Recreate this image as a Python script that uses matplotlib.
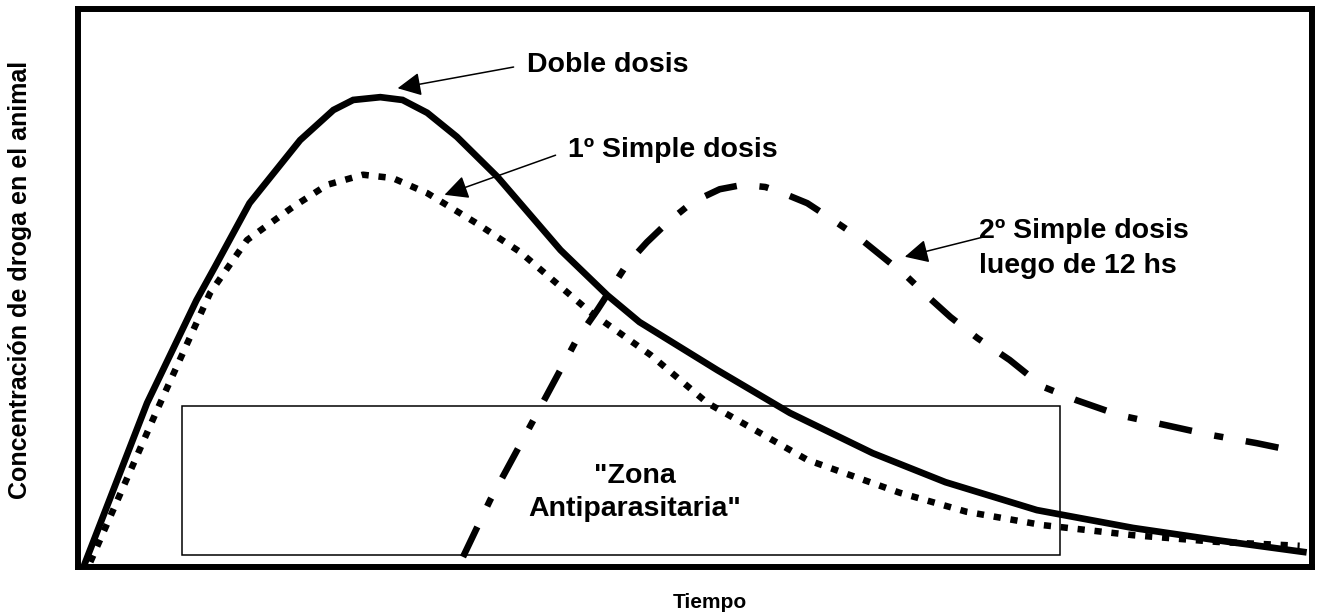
import matplotlib
matplotlib.use("Agg")
import matplotlib.pyplot as plt
from matplotlib.patches import Rectangle

plt.rcParams['font.family'] = ['Liberation Sans', 'DejaVu Sans']
plt.rcParams['font.weight'] = 'bold'

# tiempo (unidades arbitrarias) y concentracion (unidades arbitrarias)
doble_t = [0.6, 5.6, 9.6, 11.1, 13.9, 18.0, 20.7, 22.3, 24.5, 26.3, 28.3, 30.7,
           34.0, 39.1, 42.9, 45.5, 51.8, 57.7, 64.4, 70.3, 77.7, 85.5, 92.3, 99.3]
doble_c = [0.9, 29.4, 47.8, 53.8, 65.2, 76.5, 81.9, 83.7, 84.2, 83.7, 81.4, 77.1,
           69.9, 56.8, 48.7, 43.9, 35.3, 27.6, 20.4, 15.2, 10.2, 7.0, 4.8, 2.7]

simple1_t = [1.0, 6.4, 10.7, 13.7, 17.4, 20.2, 23.1, 25.5, 28.3, 32.3, 35.8,
             41.5, 46.4, 51.0, 59.1, 66.6, 72.0, 78.2, 85.5, 92.3, 99.0]
simple1_c = [0.9, 28.1, 49.1, 58.6, 64.5, 68.5, 70.3, 69.7, 67.0, 61.6, 56.5,
             45.7, 38.0, 29.4, 19.2, 13.3, 9.9, 7.5, 5.7, 4.5, 3.8]

simple2_t = [31.2, 33.4, 36.9, 40.4, 42.1, 44.5, 46.1, 47.8, 49.8, 52.0, 53.9,
             55.7, 56.9, 59.1, 61.3, 63.3, 65.2, 67.2, 68.9, 70.7, 72.9, 75.5,
             78.2, 80.9, 84.4, 88.2, 91.7, 95.5, 99.0]
simple2_c = [1.8, 12.0, 26.3, 40.7, 46.1, 54.3, 58.2, 61.8, 65.4, 67.7, 68.5,
             68.1, 67.2, 65.2, 62.0, 59.0, 55.6, 52.0, 48.4, 44.8, 41.0, 37.1,
             32.3, 29.9, 27.2, 25.4, 23.7, 22.2, 20.6]

# zona antiparasitaria: t inicio, t fin, c min, c max
zona_t = [8.4, 79.6]
zona_c = [2.15, 28.85]

fig = plt.figure(figsize=(13.21, 6.15), dpi=100)
ax = fig.add_axes([78/1321, 1-567/615, (1312-78)/1321, (567-9)/615])
ax.set_xlim(0, 100)
ax.set_ylim(0, 100)
ax.set_xticks([])
ax.set_yticks([])
for s in ax.spines.values():
    s.set_linewidth(4.3)

ax.plot(doble_t, doble_c, color='black', lw=4.8, solid_joinstyle='miter')
ax.plot(simple1_t, simple1_c, color='black', lw=4.7, linestyle=(0, (1.1, 1.5)))
ax.plot(simple2_t, simple2_c, color='black', lw=4.7,
        linestyle=(0, (5.1, 3.5, 1.4, 3.5)))

ax.add_patch(Rectangle((zona_t[0], zona_c[0]), zona_t[1]-zona_t[0],
                       zona_c[1]-zona_c[0], fill=False, lw=1.1, ec='black'))

fs = 20.5
arrow = dict(arrowstyle='-|>,head_length=0.4,head_width=0.2', color='black',
             lw=1.1, mutation_scale=36, shrinkA=0, shrinkB=0)
ax.annotate('', xy=(25.9, 85.8), xytext=(35.3, 89.6), arrowprops=arrow)
ax.annotate('', xy=(29.7, 66.7), xytext=(38.7, 73.8), arrowprops=arrow)
ax.annotate('', xy=(67.0, 55.6), xytext=(73.3, 59.1), arrowprops=arrow)

ax.text(36.4, 88.7, 'Doble dosis', fontsize=fs, va='baseline', ha='left')
ax.text(39.7, 73.5, '1º Simple dosis', fontsize=fs, va='baseline', ha='left')
ax.text(73.0, 59.0, '2º Simple dosis', fontsize=fs, va='baseline', ha='left')
ax.text(73.0, 52.7, 'luego de 12 hs', fontsize=fs, va='baseline', ha='left')
ax.text(45.1, 15.1, '"Zona', fontsize=fs, va='baseline', ha='center')
ax.text(45.1, 9.1, 'Antiparasitaria"', fontsize=fs, va='baseline', ha='center')

fig.text(20/1321, 1-280/615, 'Concentración de droga en el animal', rotation=90,
         fontsize=18, ha='center', va='center')
fig.text(710/1321, 1-603/615, 'Tiempo', fontsize=15, ha='center', va='center')

fig.savefig('out.png', dpi=100)
